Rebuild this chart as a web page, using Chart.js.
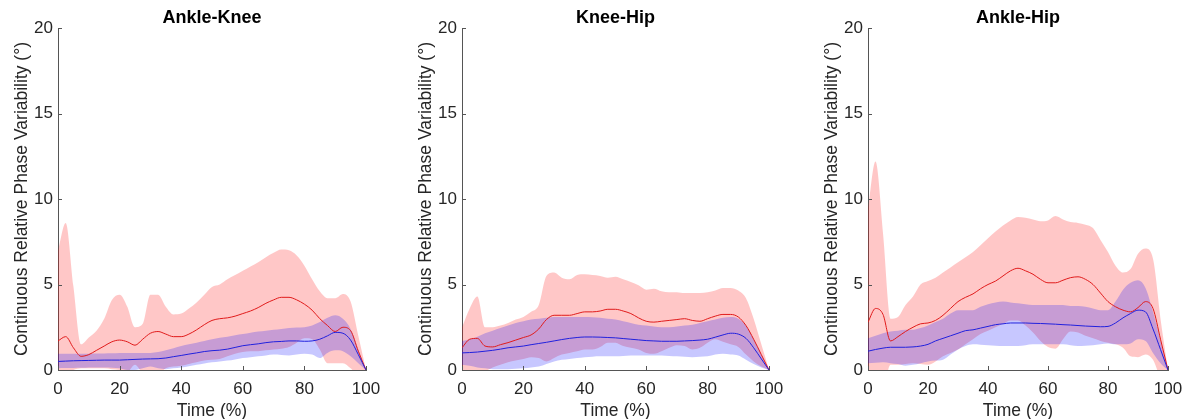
<!DOCTYPE html>
<html lang="en">
<head>
  <meta charset="UTF-8" />
  <title>Continuous Relative Phase Variability</title>
  <script src="https://cdn.jsdelivr.net/npm/chart.js"></script>
  <style>
    * { box-sizing: border-box; }
    body {
      margin: 0;
      width: 1201px;
      height: 419px;
      background: #fff;
      overflow: hidden;
      position: relative;
    }
    canvas { position: absolute; top: 0; }
  </style>
</head>
<body>
  <canvas id="akChart" width="400" height="419" style="left:0px"></canvas>
  <canvas id="khChart" width="397" height="419" style="left:404px"></canvas>
  <canvas id="ahChart" width="391" height="419" style="left:810px"></canvas>

  <script>
    // time axis (% of cycle)
    const TIME = [0, 2.5, 5, 7.5, 10, 12.5, 15, 17.5, 20, 22.5, 25, 27.5, 30, 32.5, 35, 37.5,
      40, 42.5, 45, 47.5, 50, 52.5, 55, 57.5, 60, 62.5, 65, 67.5, 70, 72.5, 75, 77.5,
      80, 82.5, 85, 87.5, 90, 92.5, 95, 97.5, 100];
    const X_TICKS = [0, 20, 40, 60, 80, 100];
    const Y_TICKS = [0, 5, 10, 15, 20];
    const PANEL_TITLES = ['Ankle-Knee', 'Knee-Hip', 'Ankle-Hip'];

    // Ankle-Knee
    const akRedMean  = [1.7,1.95,1.3,0.8,0.9,1.15,1.4,1.65,1.75,1.65,1.45,1.8,2.15,2.25,2.1,1.95,1.95,2.1,2.35,2.65,2.9,3.0,3.05,3.15,3.3,3.45,3.65,3.9,4.1,4.25,4.25,4.1,3.85,3.5,3.0,2.6,2.25,2.5,2.3,1.1,0];
    const akRedUpper = [7.0,8.6,4.9,1.5,1.9,2.3,3.0,4.1,4.4,3.7,2.5,2.7,4.4,4.4,3.7,3.25,3.3,3.6,3.95,4.4,4.85,5.0,5.3,5.55,5.8,6.05,6.3,6.6,6.85,7.05,7.0,6.7,6.1,5.3,4.6,4.2,4.2,4.45,4.0,2.0,0];
    const akRedLower = [-0.3,-0.2,0.0,0.1,0.1,0.1,0.1,0.05,0.0,-0.1,0.3,-0.2,-0.4,-0.3,0.1,0.2,0.25,0.35,0.45,0.55,0.6,0.65,0.8,0.95,1.05,1.1,1.1,1.15,1.2,1.25,1.35,1.6,1.85,1.8,1.2,0.4,0.4,0.4,0.1,-0.3,0];
    const akBlueMean  = [0.5,0.52,0.54,0.55,0.56,0.57,0.58,0.58,0.58,0.6,0.62,0.64,0.65,0.66,0.7,0.78,0.85,0.93,1.0,1.08,1.13,1.16,1.22,1.32,1.42,1.48,1.53,1.6,1.65,1.67,1.7,1.7,1.68,1.7,1.8,2.0,2.2,2.15,1.75,0.9,0];
    const akBlueUpper = [0.95,0.95,0.95,0.95,0.95,0.96,0.97,0.98,1.0,1.0,1.0,1.0,1.0,1.05,1.15,1.27,1.4,1.5,1.6,1.7,1.8,1.88,1.95,2.03,2.1,2.18,2.25,2.3,2.35,2.4,2.45,2.48,2.5,2.6,2.8,3.05,3.2,3.0,2.4,1.2,0];
    const akBlueLower = [0.1,0.11,0.12,0.13,0.15,0.15,0.15,0.13,0.1,0.0,0.0,0.1,0.2,0.1,0.05,0.1,0.15,0.22,0.3,0.38,0.45,0.5,0.55,0.62,0.7,0.75,0.8,0.85,0.9,0.88,0.85,0.9,0.95,0.9,0.7,1.0,1.15,1.1,0.8,0.4,0];

    // Knee-Hip
    const khRedMean  = [1.3,1.8,1.85,1.4,1.35,1.48,1.6,1.75,1.9,2.05,2.4,2.95,3.2,3.2,3.2,3.3,3.4,3.4,3.45,3.55,3.55,3.45,3.3,3.05,2.85,2.8,2.85,2.9,2.95,3.0,2.9,2.85,3.0,3.15,3.25,3.25,3.1,2.6,1.8,0.9,0];
    const khRedUpper = [2.5,3.6,4.3,2.5,2.5,2.6,2.75,2.95,3.1,3.4,3.8,5.5,5.7,5.4,5.3,5.55,5.6,5.55,5.5,5.4,5.45,5.3,5.15,4.95,4.7,4.75,4.6,4.55,4.55,4.5,4.5,4.5,4.55,4.65,4.8,4.8,4.65,4.2,3.0,1.5,0];
    const khRedLower = [0.0,-0.3,-0.5,-0.1,0.15,0.3,0.45,0.55,0.65,0.75,0.7,0.5,0.7,0.9,1.0,1.1,1.2,1.2,1.35,1.6,1.6,1.4,1.3,1.2,1.0,0.95,1.1,1.3,1.45,1.4,1.2,1.3,1.6,1.8,1.65,1.5,1.35,0.9,0.5,0.2,0];
    const khBlueMean  = [1.0,1.02,1.05,1.1,1.15,1.22,1.3,1.35,1.4,1.48,1.55,1.62,1.7,1.78,1.85,1.9,1.93,1.93,1.92,1.9,1.88,1.84,1.8,1.76,1.72,1.7,1.68,1.68,1.68,1.7,1.72,1.75,1.8,1.92,2.05,2.15,2.1,1.85,1.3,0.65,0];
    const khBlueUpper = [1.7,1.8,1.95,2.15,2.3,2.45,2.6,2.75,2.85,2.95,3.0,3.05,3.1,3.1,3.1,3.1,3.1,3.08,3.05,3.0,2.95,2.85,2.75,2.65,2.6,2.55,2.5,2.5,2.55,2.6,2.65,2.75,2.85,2.95,3.05,3.1,3.0,2.6,1.8,0.9,0];
    const khBlueLower = [0.3,0.25,0.15,0.1,0.05,0.05,0.05,0.08,0.1,0.15,0.2,0.35,0.5,0.6,0.65,0.7,0.75,0.78,0.8,0.8,0.8,0.82,0.85,0.85,0.85,0.85,0.85,0.82,0.8,0.78,0.75,0.78,0.8,0.9,0.95,0.9,0.85,0.6,0.35,0.15,0];

    // Ankle-Hip
    const ahRedMean  = [2.8,3.6,3.25,1.7,1.95,2.25,2.5,2.7,2.75,2.9,3.2,3.6,4.0,4.25,4.45,4.75,5.0,5.2,5.5,5.8,5.95,5.8,5.6,5.3,5.1,5.1,5.25,5.4,5.45,5.3,5.0,4.5,4.0,3.7,3.5,3.4,3.65,4.0,3.6,1.8,0];
    const ahRedUpper = [9.5,12.2,8.0,3.0,3.1,3.8,4.3,5.0,5.2,5.4,5.7,6.0,6.3,6.6,6.9,7.3,7.7,8.1,8.45,8.75,8.95,8.9,8.8,8.7,8.75,9.0,8.8,8.65,8.6,8.5,8.3,7.6,6.9,6.1,5.7,5.9,6.8,7.1,6.5,3.0,0];
    const ahRedLower = [-0.5,-1.0,-1.0,0.3,0.3,0.35,0.4,0.35,0.3,0.5,0.8,1.0,1.2,1.5,1.8,2.1,2.3,2.5,2.7,2.9,2.9,2.6,2.2,1.7,1.35,1.25,1.8,2.25,2.2,2.0,1.85,1.7,1.6,1.5,1.3,0.8,0.75,0.9,0.6,-0.3,0];
    const ahBlueMean  = [1.1,1.2,1.28,1.33,1.33,1.33,1.35,1.4,1.5,1.7,1.85,2.0,2.15,2.3,2.35,2.45,2.55,2.65,2.7,2.75,2.75,2.75,2.73,2.72,2.7,2.68,2.65,2.63,2.6,2.57,2.55,2.53,2.55,2.75,3.05,3.3,3.5,3.4,2.4,1.2,0];
    const ahBlueUpper = [1.85,2.0,2.15,2.25,2.3,2.35,2.35,2.45,2.6,2.8,3.0,3.3,3.5,3.5,3.5,3.7,3.85,3.95,4.0,3.95,3.9,3.85,3.8,3.8,3.8,3.8,3.8,3.75,3.75,3.7,3.6,3.5,3.5,4.0,4.7,5.1,5.25,4.8,3.4,1.7,0];
    const ahBlueLower = [0.4,0.42,0.45,0.4,0.35,0.25,0.3,0.4,0.5,0.55,0.6,0.9,1.2,1.4,1.5,1.48,1.45,1.42,1.4,1.4,1.4,1.45,1.5,1.5,1.5,1.5,1.5,1.45,1.4,1.42,1.45,1.5,1.55,1.5,1.5,1.55,1.8,1.7,1.0,0.4,0];

    const FONT = "'Liberation Sans', Arial, Helvetica, sans-serif";
    const TEXT = '#262626';
    const RED_FILL = 'rgba(255, 0, 0, 0.22)';
    const BLUE_FILL = 'rgba(0, 0, 255, 0.22)';
    const RED_LINE = '#e01a1a';
    const BLUE_LINE = '#2020dd';

    const pts = arr => TIME.map((t, i) => ({ x: t, y: arr[i] }));

    function band(arr, fill, order) {
      return {
        data: pts(arr),
        borderWidth: 0,
        pointRadius: 0,
        backgroundColor: fill,
        fill: fill ? '+1' : false,
        order
      };
    }
    function line(arr, color, order) {
      return {
        data: pts(arr),
        borderColor: color,
        borderWidth: 1,
        pointRadius: 0,
        fill: false,
        order
      };
    }

    // title centred over the plot area, plus MATLAB-style inward ticks
    const panelDecor = {
      id: 'panelDecor',
      afterDraw(chart) {
        const { ctx, chartArea: a, scales } = chart;
        ctx.save();
        ctx.strokeStyle = '#555';
        ctx.lineWidth = 1;
        ctx.beginPath();
        X_TICKS.forEach(v => {
          const px = Math.round(scales.x.getPixelForValue(v)) + 0.5;
          ctx.moveTo(px, a.bottom);
          ctx.lineTo(px, a.bottom - 4);
        });
        Y_TICKS.forEach(v => {
          const py = Math.round(scales.y.getPixelForValue(v)) + 0.5;
          ctx.moveTo(a.left, py);
          ctx.lineTo(a.left + 4, py);
        });
        ctx.stroke();
        ctx.fillStyle = '#000';
        ctx.font = 'bold 18px ' + FONT;
        ctx.textAlign = 'center';
        ctx.textBaseline = 'middle';
        ctx.fillText(chart.options.plugins.panelDecor.title, (a.left + a.right) / 2, 18);
        ctx.restore();
      }
    };

    function makePanel(id, title, redMean, redUpper, redLower, blueMean, blueUpper, blueLower, rightPad) {
      new Chart(document.getElementById(id), {
        type: 'line',
        data: {
          datasets: [
            band(blueUpper, BLUE_FILL, 2),
            band(blueLower, null, 2),
            line(blueMean, BLUE_LINE, 0),
            band(redUpper, RED_FILL, 3),
            band(redLower, null, 3),
            line(redMean, RED_LINE, 1)
          ]
        },
        plugins: [panelDecor],
        options: {
          responsive: false,
          animation: false,
          layout: { padding: { top: 28, right: rightPad, left: 0, bottom: 0 } },
          elements: { line: { cubicInterpolationMode: 'monotone' } },
          plugins: {
            legend: { display: false },
            tooltip: { enabled: false },
            filler: { drawTime: 'beforeDatasetsDraw' },
            panelDecor: { title }
          },
          scales: {
            x: {
              type: 'linear',
              min: 0,
              max: 100,
              z: 1,
              afterFit: s => { s.height = 49; },
              afterBuildTicks: s => { s.ticks = X_TICKS.map(v => ({ value: v })); },
              grid: { display: false, drawTicks: false },
              border: { display: true, color: '#555', width: 1 },
              ticks: { color: TEXT, font: { family: FONT, size: 17 }, padding: 9, maxRotation: 0 },
              title: { display: true, text: 'Time (%)', color: TEXT, font: { family: FONT, size: 17.5 }, padding: { top: 0, bottom: -3 } }
            },
            y: {
              min: 0,
              max: 20,
              z: 1,
              afterFit: s => { s.width = 58; },
              afterBuildTicks: s => { s.ticks = Y_TICKS.map(v => ({ value: v })); },
              grid: { display: false, drawTicks: false },
              border: { display: true, color: '#555', width: 1 },
              ticks: { color: TEXT, font: { family: FONT, size: 17 }, padding: 5 },
              title: { display: true, text: 'Continuous Relative Phase Variability (°)', color: TEXT, font: { family: FONT, size: 17.5 }, padding: { top: 12, bottom: 0 } }
            }
          }
        }
      });
    }

    makePanel('akChart', PANEL_TITLES[0], akRedMean, akRedUpper, akRedLower, akBlueMean, akBlueUpper, akBlueLower, 34);
    makePanel('khChart', PANEL_TITLES[1], khRedMean, khRedUpper, khRedLower, khBlueMean, khBlueUpper, khBlueLower, 32);
    makePanel('ahChart', PANEL_TITLES[2], ahRedMean, ahRedUpper, ahRedLower, ahBlueMean, ahBlueUpper, ahBlueLower, 33);
  </script>
</body>
</html>
